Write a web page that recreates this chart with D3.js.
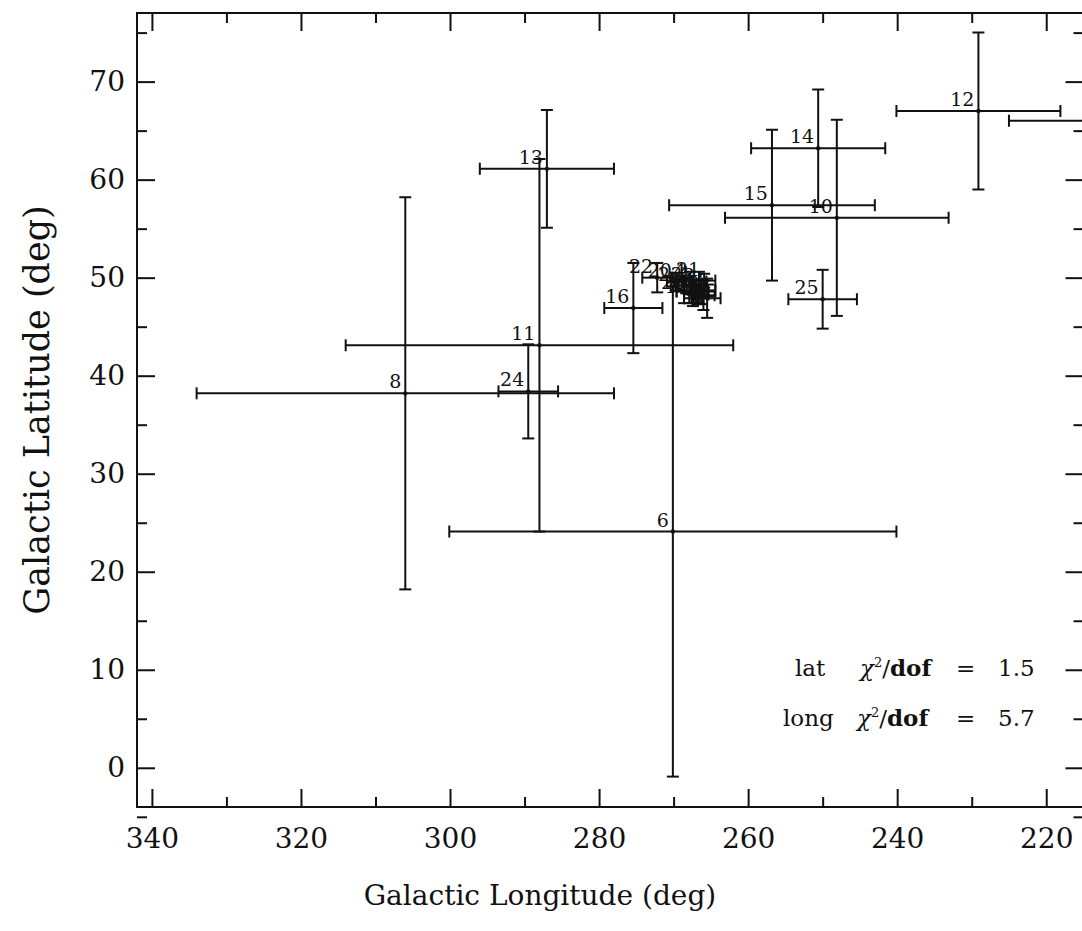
<!DOCTYPE html>
<html>
<head>
<meta charset="utf-8">
<script src="https://cdn.jsdelivr.net/npm/d3@7"></script>
<style>
  body { margin: 0; background: #fff; }
  svg { display: block; }
</style>
</head>
<body>
<div id="chart"></div>
<script>
'use strict';

// source ids, galactic longitude / latitude and their errors (deg)
const ids    = ["12", "26", "14", "10", "15", "25", "13", "11", "24", "8", "6", "16", "22",
                "20", "21", "23", "19", "18", "17", "5", "4", "3", "2", "1", "7", "9", "27", "28"];
const lon    = [229.1, 208.0, 250.6, 248.1, 256.8, 250.0, 287.0, 288.0, 289.5, 306.0, 270.1, 275.4, 272.2,
                269.7, 265.9, 268.3, 267.0, 266.0, 267.4, 265.5, 267.8, 266.6, 265.4, 267.0, 266.3, 268.6, 266.8, 267.9];
const lat    = [67.0, 66.0, 63.2, 56.1, 57.4, 47.8, 61.1, 43.1, 38.4, 38.2, 24.1, 46.9, 50.0,
                49.6, 49.7, 49.2, 48.6, 48.2, 47.9, 47.9, 49.6, 49.0, 48.7, 49.3, 48.3, 48.6, 48.0, 48.3];
const lonErr = [11.0, 17.0, 9.0, 15.0, 13.8, 4.6, 9.0, 26.0, 4.0, 28.0, 30.0, 3.9, 2.0,
                1.2, 1.5, 1.0, 2.6, 1.5, 1.2, 1.8, 2.2, 0.8, 1.0, 0.6, 1.0, 1.0, 0.8, 0.7];
const latErr = [8.0, 0, 6.0, 10.0, 7.7, 3.0, 6.0, 19.0, 4.8, 20.0, 25.0, 4.6, 1.5,
                0.9, 0.7, 0.8, 1.2, 1.5, 0.8, 2.0, 1.0, 1.6, 0.6, 0.5, 1.0, 1.2, 0.7, 0.9];

const xMajor = [340, 320, 300, 280, 260, 240, 220];
const xMinor = [330, 310, 290, 270, 250, 230];
const yMajor = [0, 10, 20, 30, 40, 50, 60, 70];
const yMinor = [-5, 5, 15, 25, 35, 45, 55, 65, 75];

const fitStats = [
  {name: "lat",  value: "1.5"},
  {name: "long", value: "5.7"}
];

const W = 1082, H = 931;
const box = {left: 137, right: 1083.5, top: 13, bottom: 807};
const ink = "#111";
const font = "'DejaVu Serif', serif";

const svg = d3.select("#chart").append("svg")
  .attr("width", W)
  .attr("height", H)
  .style("font-family", font);

const x = d3.scaleLinear().domain([342, 215]).range([box.left, box.right]);
const y = d3.scaleLinear().domain([-4, 77]).range([box.bottom, box.top]);

svg.append("clipPath").attr("id", "plotclip")
  .append("rect")
  .attr("x", box.left).attr("y", box.top)
  .attr("width", box.right - box.left).attr("height", box.bottom - box.top);

// axes, ticks pointing inward on all four sides
function styleAxis(g) {
  g.select(".domain").remove();
  g.selectAll(".tick line").attr("stroke", ink).attr("stroke-width", 2);
  g.selectAll(".tick text").attr("fill", ink).style("font-size", "28px").style("font-family", font);
}

function addAxes(axisFn, pos, scale, major, minor, labels, pad) {
  const big = axisFn(scale).tickValues(major).tickSize(-18).tickPadding(pad)
    .tickFormat(labels ? d3.format("d") : "");
  const small = axisFn(scale).tickValues(minor).tickSize(-10).tickFormat("");
  svg.append("g").attr("transform", pos).call(big).call(styleAxis);
  svg.append("g").attr("transform", pos).call(small).call(styleAxis);
}

addAxes(d3.axisBottom, `translate(0,${box.bottom})`, x, xMajor, xMinor, true, 21);
addAxes(d3.axisTop, `translate(0,${box.top})`, x, xMajor, xMinor, false, 0);
addAxes(d3.axisLeft, `translate(${box.left},0)`, y, yMajor, yMinor, true, 12);
addAxes(d3.axisRight, `translate(${box.right},0)`, y, yMajor, yMinor, false, 0);

svg.append("rect")
  .attr("x", box.left).attr("y", box.top)
  .attr("width", box.right - box.left).attr("height", box.bottom - box.top)
  .attr("fill", "none")
  .attr("stroke", ink)
  .attr("stroke-width", 2);

// axis titles
svg.append("text")
  .attr("x", 540)
  .attr("y", 905)
  .attr("text-anchor", "middle")
  .attr("fill", ink)
  .style("font-size", "28px")
  .text("Galactic Longitude (deg)");

svg.append("text")
  .attr("transform", `translate(49,${(box.top + box.bottom) / 2}) rotate(-90)`)
  .attr("text-anchor", "middle")
  .attr("fill", ink)
  .style("font-size", "35px")
  .text("Galactic Latitude (deg)");

// error bars
const rows = ids.map((id, i) => ({id, l: lon[i], b: lat[i], el: lonErr[i], eb: latErr[i]}));
const cap = 6;

const plot = svg.append("g").attr("clip-path", "url(#plotclip)");
const pts = plot.selectAll("g.pt")
  .data(rows)
  .enter()
  .append("g")
  .attr("class", "pt")
  .attr("stroke", ink)
  .attr("stroke-width", 2);

pts.append("line")
  .attr("x1", d => x(d.l - d.el)).attr("x2", d => x(d.l + d.el))
  .attr("y1", d => y(d.b)).attr("y2", d => y(d.b));
pts.append("line")
  .attr("x1", d => x(d.l - d.el)).attr("x2", d => x(d.l - d.el))
  .attr("y1", d => y(d.b) - cap).attr("y2", d => y(d.b) + cap);
pts.append("line")
  .attr("x1", d => x(d.l + d.el)).attr("x2", d => x(d.l + d.el))
  .attr("y1", d => y(d.b) - cap).attr("y2", d => y(d.b) + cap);

const vert = pts.filter(d => d.eb > 0);
vert.append("line")
  .attr("x1", d => x(d.l)).attr("x2", d => x(d.l))
  .attr("y1", d => y(d.b - d.eb)).attr("y2", d => y(d.b + d.eb));
vert.append("line")
  .attr("x1", d => x(d.l) - cap).attr("x2", d => x(d.l) + cap)
  .attr("y1", d => y(d.b - d.eb)).attr("y2", d => y(d.b - d.eb));
vert.append("line")
  .attr("x1", d => x(d.l) - cap).attr("x2", d => x(d.l) + cap)
  .attr("y1", d => y(d.b + d.eb)).attr("y2", d => y(d.b + d.eb));

pts.append("circle")
  .attr("cx", d => x(d.l)).attr("cy", d => y(d.b))
  .attr("r", 2.2)
  .attr("fill", ink)
  .attr("stroke", "none");

pts.append("text")
  .attr("x", d => x(d.l) - 4)
  .attr("y", d => y(d.b) - 5)
  .attr("text-anchor", "end")
  .attr("fill", ink)
  .attr("stroke", "none")
  .style("font-size", "19px")
  .text(d => d.id);

// chi-square annotation
const note = svg.append("g").attr("fill", ink).style("font-size", "23px");
fitStats.forEach((s, i) => {
  const by = 676 + i * 50;
  const t = note.append("text").attr("y", by);
  t.append("tspan").attr("x", i === 0 ? 795 : 783).text(s.name);
  t.append("tspan").attr("x", i === 0 ? 860 : 857).style("font-style", "italic").text("χ");
  t.append("tspan").attr("dy", -9).style("font-size", "13px").text("2");
  t.append("tspan").attr("dy", 9).text("/");
  t.append("tspan").style("font-weight", "bold").text("dof");
  t.append("tspan").attr("x", 956).text("=");
  t.append("tspan").attr("x", 998).text(s.value);
});
</script>
</body>
</html>
